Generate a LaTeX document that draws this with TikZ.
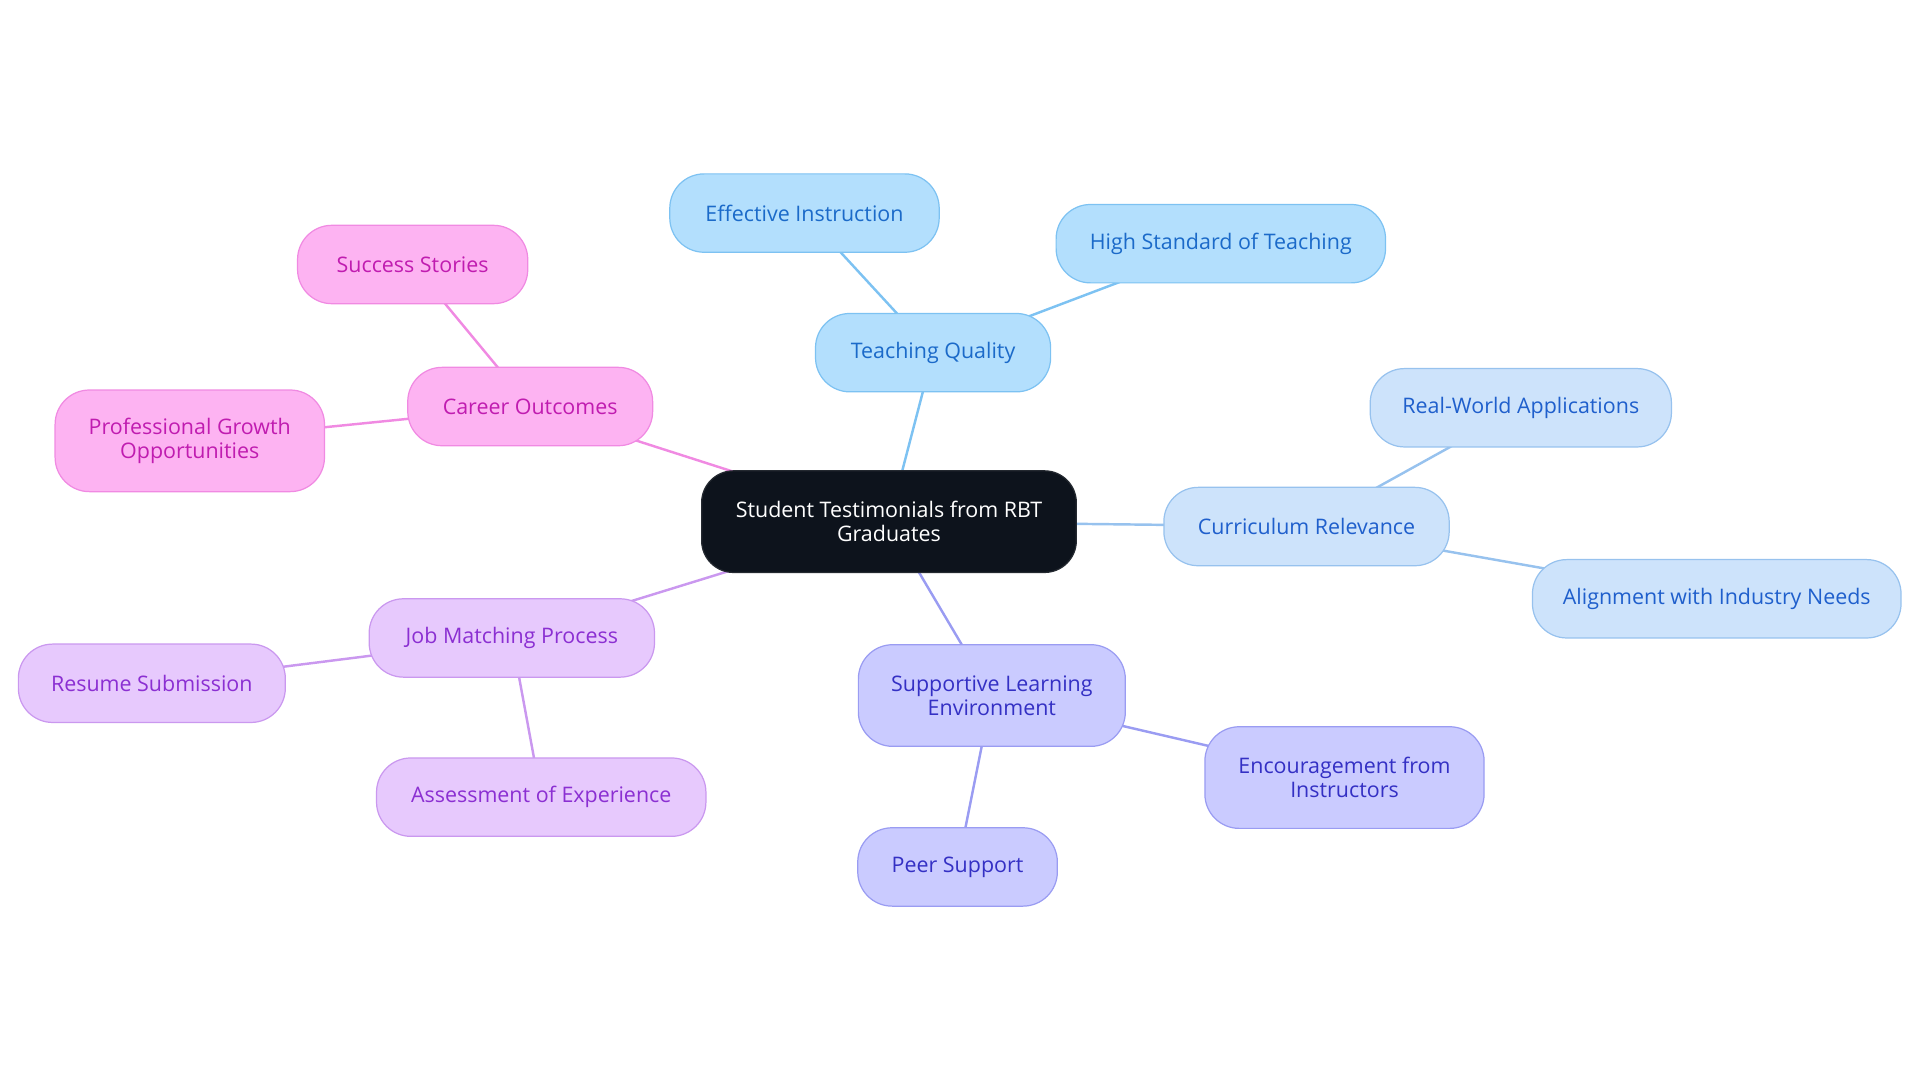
\documentclass[tikz,border=0pt]{standalone}
\usepackage{fontspec}
\setmainfont{Open Sans}
\usetikzlibrary{backgrounds}
\definecolor{rootfill}{HTML}{0D131C}
\definecolor{teachfill}{HTML}{B3DFFD}
\definecolor{teachline}{HTML}{7DC2F2}
\definecolor{teachtext}{HTML}{1B6AC9}
\definecolor{currfill}{HTML}{CDE3FB}
\definecolor{currline}{HTML}{97C2EE}
\definecolor{currtext}{HTML}{1F5FCC}
\definecolor{suppfill}{HTML}{CACBFF}
\definecolor{suppline}{HTML}{9A9CF2}
\definecolor{supptext}{HTML}{3430C4}
\definecolor{jobfill}{HTML}{E7C9FD}
\definecolor{jobline}{HTML}{CA98EF}
\definecolor{jobtext}{HTML}{8B2FD2}
\definecolor{careerfill}{HTML}{FDB3F2}
\definecolor{careerline}{HTML}{F08AE2}
\definecolor{careertext}{HTML}{C01CB0}
\begin{document}
\begin{tikzpicture}[x=1pt,y=-1pt,
	box/.style={rectangle,rounded corners=28pt,align=center,inner sep=0pt,
		minimum height=64pt,line width=1pt,
		font=\fontsize{17.5}{19.5}\selectfont},
	root/.style={box,fill=rootfill,draw=rootfill!80!gray,text=white,rounded corners=26pt},
	teach/.style={box,fill=teachfill,draw=teachline,text=teachtext},
	curr/.style={box,fill=currfill,draw=currline,text=currtext},
	supp/.style={box,fill=suppfill,draw=suppline,text=supptext},
	job/.style={box,fill=jobfill,draw=jobline,text=jobtext},
	career/.style={box,fill=careerfill,draw=careerline,text=careertext},
	link/.style={line width=2pt}]
	\useasboundingbox (0,0) rectangle (1568,884);
	% Draw root
	\node (root) [root,minimum width=306pt,minimum height=83pt] at (726,426)
		{Student Testimonials from RBT\\Graduates};
	% Draw teaching quality branch
	\node (tq) [teach,minimum width=192pt] at (762,288) {Teaching Quality};
	\node (ei) [teach,minimum width=220pt] at (657,174) {Effective Instruction};
	\node (hs) [teach,minimum width=269pt] at (997,199) {High Standard of Teaching};
	% Draw curriculum branch
	\node (cr) [curr,minimum width=233pt] at (1067,430) {Curriculum Relevance};
	\node (rw) [curr,minimum width=246pt] at (1242,333) {Real-World Applications};
	\node (ai) [curr,minimum width=301pt] at (1402,489) {Alignment with Industry Needs};
	% Draw supportive environment branch
	\node (sl) [supp,minimum width=218pt,minimum height=83pt] at (810,568)
		{Supportive Learning\\Environment};
	\node (ef) [supp,minimum width=228pt,minimum height=83pt] at (1098,635)
		{Encouragement from\\Instructors};
	\node (ps) [supp,minimum width=163pt] at (782,708) {Peer Support};
	% Draw job matching branch
	\node (jm) [job,minimum width=233pt] at (418,521) {Job Matching Process};
	\node (rs) [job,minimum width=218pt] at (124,558) {Resume Submission};
	\node (ae) [job,minimum width=269pt] at (442,651) {Assessment of Experience};
	% Draw career branch
	\node (co) [career,minimum width=200pt] at (433,332) {Career Outcomes};
	\node (ss) [career,minimum width=188pt] at (337,216) {Success Stories};
	\node (pg) [career,minimum width=220pt,minimum height=83pt] at (155,360)
		{Professional Growth\\Opportunities};
	% Connect nodes behind the boxes
	\begin{scope}[on background layer]
		\draw [link,teachline] (root.center) -- (tq.center);
		\draw [link,teachline] (tq.center) -- (ei.center);
		\draw [link,teachline] (tq.center) -- (hs.center);
		\draw [link,currline] (root.center) -- (cr.center);
		\draw [link,currline] (cr.center) -- (rw.center);
		\draw [link,currline] (cr.center) -- (ai.center);
		\draw [link,suppline] (root.center) -- (sl.center);
		\draw [link,suppline] (sl.center) -- (ef.center);
		\draw [link,suppline] (sl.center) -- (ps.center);
		\draw [link,jobline] (root.center) -- (jm.center);
		\draw [link,jobline] (jm.center) -- (rs.center);
		\draw [link,jobline] (jm.center) -- (ae.center);
		\draw [link,careerline] (root.center) -- (co.center);
		\draw [link,careerline] (co.center) -- (ss.center);
		\draw [link,careerline] (co.center) -- (pg.center);
	\end{scope}
\end{tikzpicture}
\end{document}
